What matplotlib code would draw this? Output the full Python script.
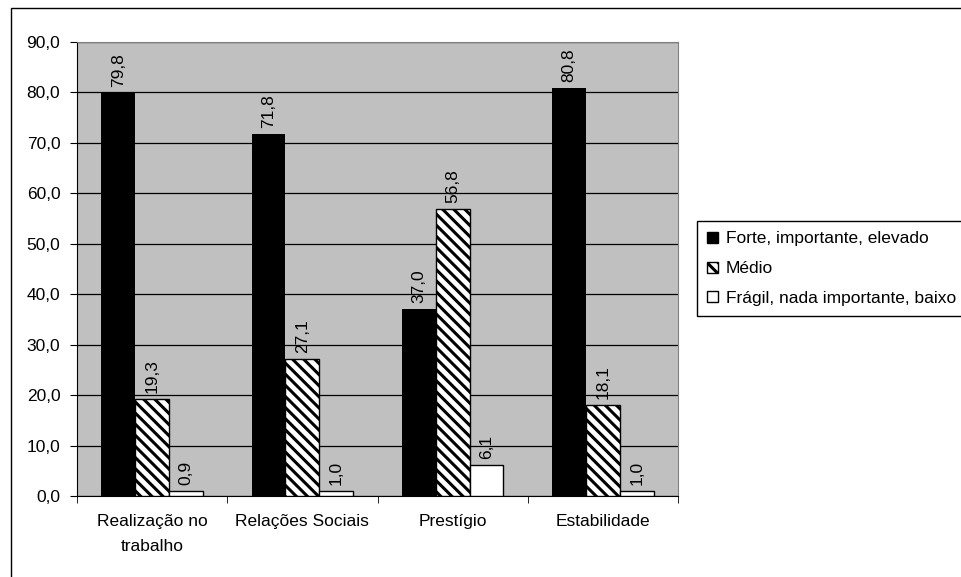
#! /usr/bin/env python3
'''
Grouped bar chart: valores do trabalho
'''

import numpy as np
import matplotlib.pyplot as plt
from matplotlib.patches import Patch, Rectangle

plt.rcParams['font.family'] = ['Liberation Sans', 'DejaVu Sans']
plt.rcParams['hatch.linewidth'] = 2.2

categories = ['Realização no\ntrabalho', 'Relações Sociais', 'Prestígio', 'Estabilidade']
series_names = ['Forte, importante, elevado', 'Médio', 'Frágil, nada importante, baixo']
forte = [79.8, 71.8, 37.0, 80.8]
medio = [19.3, 27.1, 56.8, 18.1]
fragil = [0.9, 1.0, 6.1, 1.0]
y_ticks = [0, 10, 20, 30, 40, 50, 60, 70, 80, 90]

FS = 12.5


def fmt(v):
    return f'{v:.1f}'.replace('.', ',')


def main():
    fig = plt.figure(figsize=(9.61, 5.77), dpi=100)
    # outer chart border (partly cut off on the right and bottom)
    fig.patches.append(Rectangle((11 / 961, -0.05), 1.0, 1.05 - 8 / 577,
                                 transform=fig.transFigure, fill=False,
                                 edgecolor='black', linewidth=1.0))

    ax = fig.add_axes([77 / 961, 81 / 577, 601 / 961, 454 / 577])
    ax.set_facecolor('#C0C0C0')
    x = np.arange(len(categories))
    w = 0.225
    styles = [dict(color='black'),
              dict(facecolor='white', edgecolor='black', hatch='\\\\\\'),
              dict(facecolor='white', edgecolor='black')]
    for i, (vals, st) in enumerate(zip([forte, medio, fragil], styles)):
        pos = x + (i - 1) * w
        ax.bar(pos, vals, w, linewidth=1.0, zorder=3, **st)
        for p, v in zip(pos, vals):
            ax.text(p, v + 1.2, fmt(v), rotation=90, ha='center', va='bottom',
                    fontsize=FS, zorder=4)

    ax.set_xlim(-0.5, len(categories) - 0.5)
    ax.set_ylim(0, 90)
    ax.set_yticks(y_ticks)
    ax.set_yticklabels([fmt(t) for t in y_ticks], fontsize=FS)
    ax.set_xticks(x)
    ax.set_xticklabels(categories, fontsize=FS, linespacing=1.8)
    ax.tick_params(axis='x', length=0, pad=13)
    ax.set_xticks(np.arange(len(categories) + 1) - 0.5, minor=True)
    ax.tick_params(axis='x', which='minor', length=5, direction='out')
    ax.tick_params(axis='y', length=5, direction='out', pad=7)
    ax.grid(axis='y', color='black', linewidth=0.9, zorder=1)
    ax.set_axisbelow(True)
    for s in ['top', 'right']:
        ax.spines[s].set_color('#808080')
    for s in ['left', 'bottom']:
        ax.spines[s].set_color('black')

    handles = [Patch(facecolor='black', edgecolor='black'),
               Patch(facecolor='white', edgecolor='black', hatch='\\\\\\'),
               Patch(facecolor='white', edgecolor='black')]
    leg = fig.legend(handles, series_names, loc='upper left',
                     bbox_to_anchor=(697 / 961, 1 - 221 / 577),
                     bbox_transform=fig.transFigure, fontsize=FS,
                     handlelength=0.6, handleheight=0.6, handletextpad=0.45,
                     borderaxespad=0, borderpad=0.6, labelspacing=0.85,
                     fancybox=False, framealpha=1, edgecolor='black')
    leg.get_frame().set_linewidth(1.0)

    fig.savefig('out.png', dpi=100)


if __name__ == '__main__':
    main()
